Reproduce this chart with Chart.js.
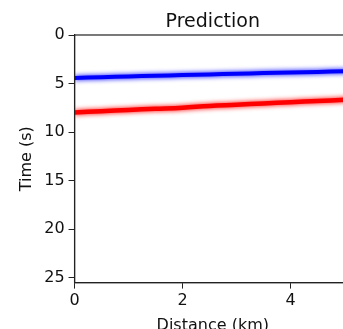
<!DOCTYPE html>
<html>
<head>
<meta charset="utf-8">
<script src="https://cdn.jsdelivr.net/npm/chart.js@4/dist/chart.umd.min.js"></script>
<style>
  html, body { margin: 0; padding: 0; background: #fff; overflow: hidden; }
  #wrap { width: 343px; height: 329px; overflow: hidden; }
</style>
</head>
<body>
<div id="wrap"><canvas id="chart" width="362" height="335"></canvas></div>
<script>
// picked arrivals (distance in km, time in s)
const distance = [0, 0.5, 1, 1.5, 2, 2.5, 3, 3.5, 4, 4.5, 5, 5.12];
const blueTime = [4.42, 4.35, 4.27, 4.2, 4.13, 4.06, 3.99, 3.92, 3.86, 3.8, 3.74, 3.72];
const redTime  = [7.97, 7.85, 7.72, 7.6, 7.48, 7.3, 7.18, 7.05, 6.92, 6.8, 6.68, 6.65];
const xTicks = [0, 2, 4];
const yTicks = [0, 5, 10, 15, 20, 25];
const titleText = 'Prediction';

const toPoints = ys => distance.map((d, i) => ({ x: d, y: ys[i] }));

// soft glow so the lines look blurred like the image
const glowPlugin = {
    id: 'glow',
    beforeDatasetDraw(chart, args) {
        const ctx = chart.ctx;
        ctx.save();
        ctx.shadowColor = args.meta._dataset.borderColor;
        ctx.shadowBlur = 5;
    },
    afterDatasetDraw(chart) {
        chart.ctx.restore();
    }
};

// matplotlib-style box around the plot area, title centred over the axes
const framePlugin = {
    id: 'frame',
    afterDraw(chart) {
        const { ctx, chartArea: a } = chart;
        ctx.save();
        ctx.strokeStyle = '#222';
        ctx.lineWidth = 1.2;
        ctx.strokeRect(a.left, a.top, a.right - a.left, a.bottom - a.top);
        ctx.fillStyle = '#111';
        ctx.font = '19px "DejaVu Sans"';
        ctx.textAlign = 'center';
        ctx.textBaseline = 'alphabetic';
        ctx.fillText(titleText, (a.left + a.right) / 2, a.top - 8);
        ctx.restore();
    }
};

const font = { family: 'DejaVu Sans', size: 16 };

new Chart(document.getElementById('chart').getContext('2d'), {
    type: 'line',
    data: {
        datasets: [
            { data: toPoints(blueTime), borderColor: '#0000ff', borderWidth: 4, pointRadius: 0, tension: 0.4 },
            { data: toPoints(redTime), borderColor: '#ff0000', borderWidth: 4.5, pointRadius: 0, tension: 0.4 }
        ]
    },
    options: {
        responsive: false,
        animation: false,
        layout: { padding: { left: 17, right: 11, top: 35, bottom: 0 } },
        plugins: {
            legend: { display: false },
            tooltip: { enabled: false },
            title: { display: false }
        },
        scales: {
            x: {
                type: 'linear',
                min: 0,
                max: 5.12,
                afterBuildTicks: s => { s.ticks = xTicks.map(v => ({ value: v })); },
                ticks: { color: '#111', font, padding: 3, maxRotation: 0 },
                grid: { drawOnChartArea: false, drawTicks: true, tickLength: 6, color: '#222' },
                border: { display: true, color: '#222', width: 1.2 },
                title: { display: true, text: 'Distance (km)', color: '#111', font, padding: { top: 2, bottom: 0 } }
            },
            y: {
                type: 'linear',
                reverse: true,
                min: 0,
                max: 25.5,
                afterBuildTicks: s => { s.ticks = yTicks.map(v => ({ value: v })); },
                ticks: { color: '#111', font, padding: 4 },
                grid: { drawOnChartArea: false, drawTicks: true, tickLength: 6, color: '#222' },
                border: { display: true, color: '#222', width: 1.2 },
                title: { display: true, text: 'Time (s)', color: '#111', font, padding: { top: 0, bottom: 4 } }
            }
        }
    },
    plugins: [glowPlugin, framePlugin]
});
</script>
</body>
</html>
